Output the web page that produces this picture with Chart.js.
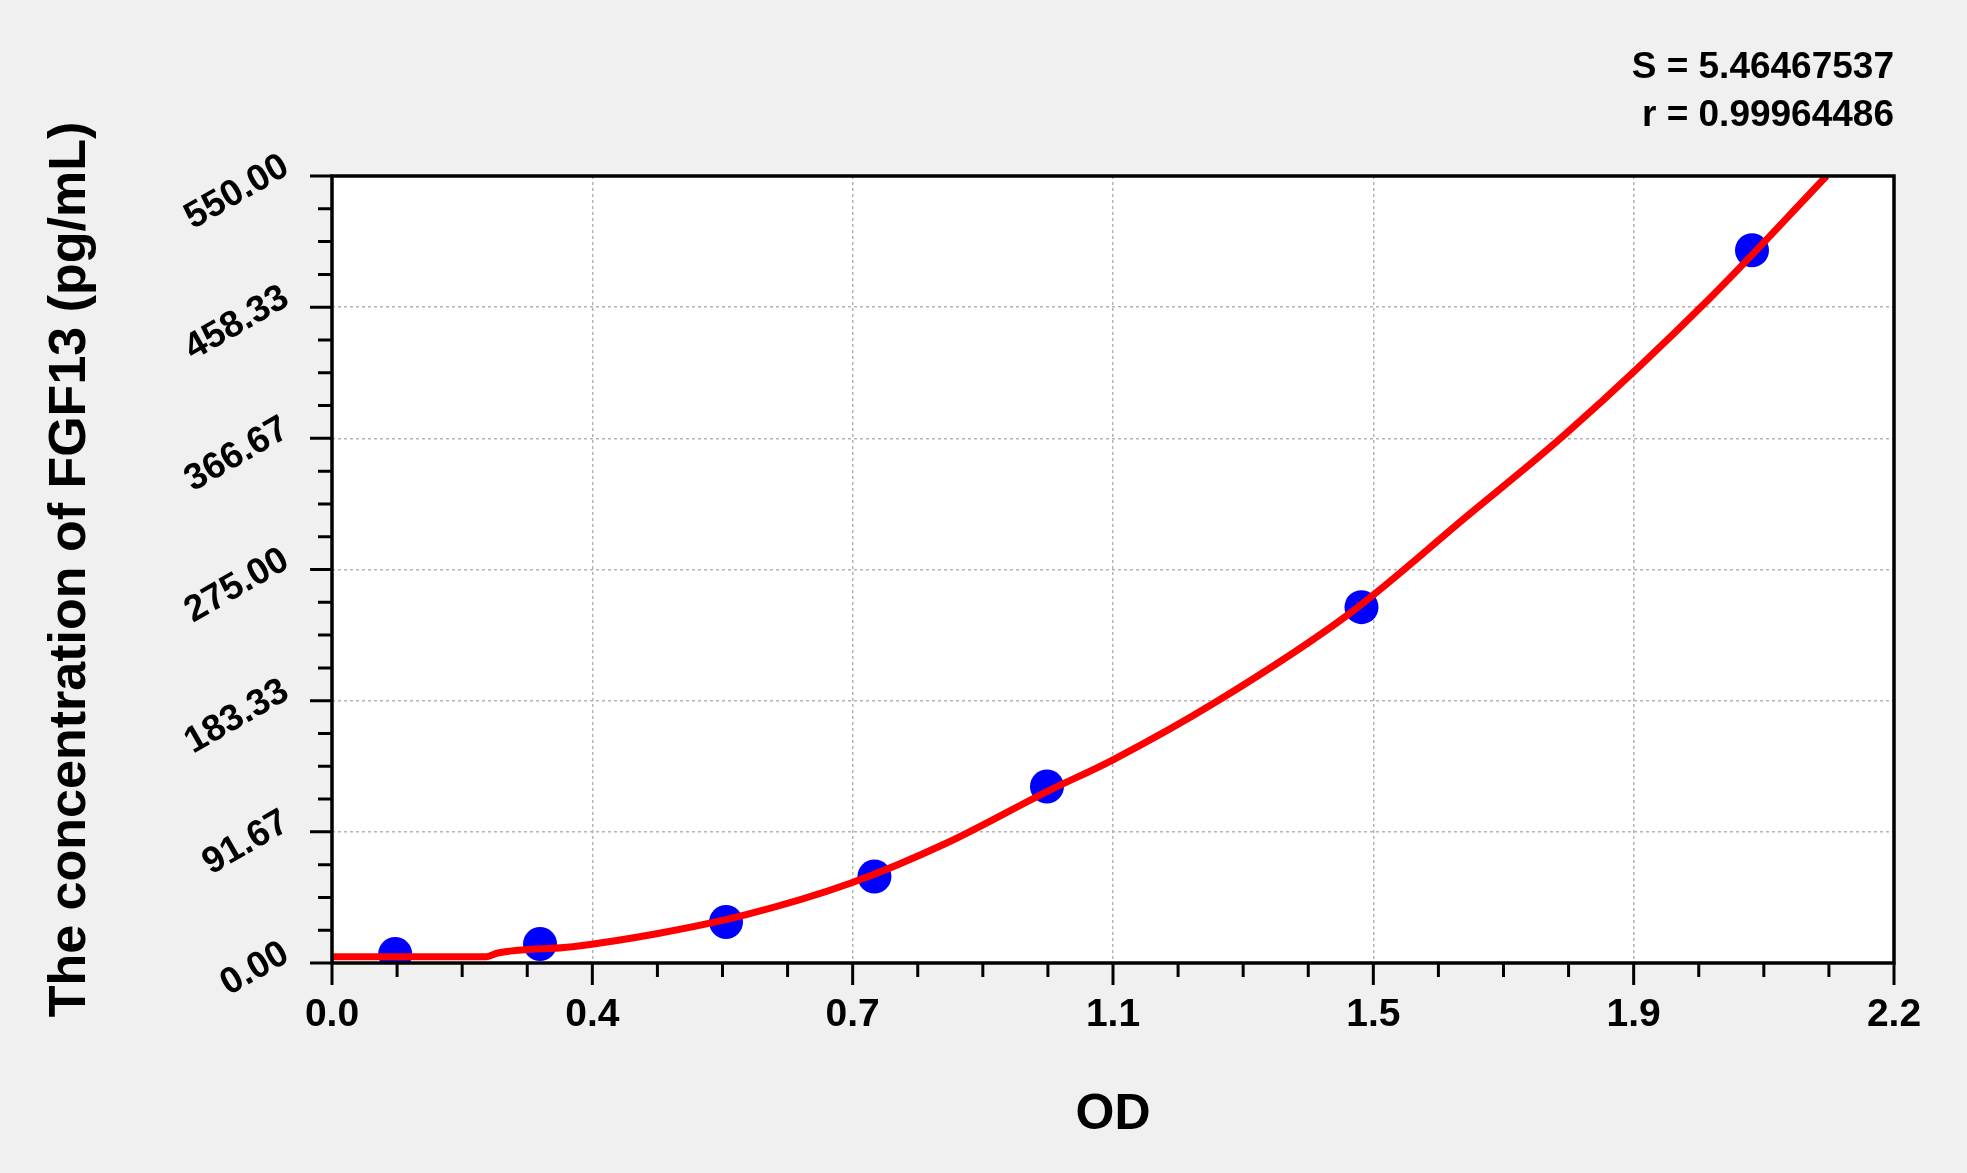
<!DOCTYPE html>
<html>
<head>
<meta charset="utf-8">
<script src="https://cdn.jsdelivr.net/npm/chart.js@4.4.1/dist/chart.umd.min.js"></script>
<style>
  html, body { margin: 0; padding: 0; background: #f0f0f0; }
  #wrap { width: 1967px; height: 1173px; }
</style>
</head>
<body>
<div id="wrap"><canvas id="myChart" width="1967" height="1173"></canvas></div>
<script>
// standard points (OD, concentration pg/mL)
let odValues = [0.089, 0.293, 0.555, 0.764, 1.007, 1.450, 2.000];
let concValues = [6.3, 13.3, 28.7, 60.4, 123.3, 248.7, 498.1];

// fitted curve
let curveOD = [0, 0.218, 0.232, 0.339, 0.461, 0.582, 0.730, 0.865, 1.007, 1.100,
  1.246, 1.434, 1.598, 1.739, 1.941, 2.105];
let curveConc = [4.4, 4.4, 6.8, 11.4, 20.8, 33.6, 55.7, 83.7, 119.8, 142,
  182.7, 244.5, 312, 370.4, 464.8, 550];

let xTickLabels = ['0.0', '0.4', '0.7', '1.1', '1.5', '1.9', '2.2'];
let yTickLabels = ['0.00', '91.67', '183.33', '275.00', '366.67', '458.33', '550.00'];
let xMax = 2.2;
let yMax = 550;
let statLines = ['S = 5.46467537', 'r = 0.99964486'];

const fam = '"Liberation Sans", Arial, sans-serif';

// white plot area, tick marks (major + minor), frame and S / r text
const frame = {
  id: 'frame',
  beforeDraw(chart) {
    const {ctx, chartArea: a} = chart;
    ctx.save();
    ctx.fillStyle = '#ffffff';
    ctx.fillRect(a.left, a.top, a.right - a.left, a.bottom - a.top);
    ctx.restore();
  },
  afterDraw(chart) {
    const {ctx, chartArea: a, scales: {x, y}} = chart;
    ctx.save();
    ctx.strokeStyle = '#000';
    ctx.lineWidth = 3;
    ctx.beginPath();
    for (let i = 0; i <= 24; i++) {
      let len = i % 4 === 0 ? 22 : 14;
      let px = x.getPixelForValue(i * xMax / 24);
      ctx.moveTo(px, a.bottom);
      ctx.lineTo(px, a.bottom + len);
      let py = y.getPixelForValue(i * yMax / 24);
      ctx.moveTo(a.left, py);
      ctx.lineTo(a.left - len, py);
    }
    ctx.stroke();
    ctx.lineWidth = 3.5;
    ctx.strokeRect(a.left, a.top, a.right - a.left, a.bottom - a.top);

    ctx.fillStyle = '#000';
    ctx.font = 'bold 37px ' + fam;
    ctx.textAlign = 'right';
    ctx.textBaseline = 'alphabetic';
    ctx.fillText(statLines[0], a.right, 78);
    ctx.fillText(statLines[1], a.right, 126);
    ctx.restore();
  }
};

let ctx = document.getElementById('myChart').getContext('2d');

let myChart = new Chart(ctx, {
  type: 'scatter',
  data: {
    datasets: [
      {
        type: 'line',
        data: curveOD.map((v, i) => ({x: v, y: curveConc[i]})),
        borderColor: '#ff0000',
        borderWidth: 7,
        pointRadius: 0,
        fill: false,
        cubicInterpolationMode: 'monotone'
      },
      {
        data: odValues.map((v, i) => ({x: v, y: concValues[i]})),
        backgroundColor: '#0000ff',
        borderWidth: 0,
        pointRadius: 17
      }
    ]
  },
  options: {
    responsive: false,
    animation: false,
    layout: { padding: { left: 0, top: 176, right: 73, bottom: 0 } },
    plugins: { legend: { display: false }, tooltip: { enabled: false } },
    scales: {
      x: {
        type: 'linear',
        min: 0,
        max: xMax,
        afterBuildTicks: (scale) => { scale.ticks = xTickLabels.map((t, i) => ({value: i * xMax / 6})); },
        afterFit: (scale) => { scale.height = 210; },
        ticks: {
          callback: (v, i) => xTickLabels[i],
          autoSkip: false,
          maxRotation: 0,
          padding: 29,
          color: '#000',
          font: { family: fam, size: 39, weight: 'bold' }
        },
        grid: { drawTicks: false, color: '#b4b4b4', lineWidth: 1.5 },
        border: { display: false, dash: [3, 3] },
        title: {
          display: true,
          text: 'OD',
          color: '#000',
          font: { family: fam, size: 50, weight: 'bold' },
          padding: { top: 0, bottom: 28 }
        }
      },
      y: {
        type: 'linear',
        min: 0,
        max: yMax,
        afterBuildTicks: (scale) => { scale.ticks = yTickLabels.map((t, i) => ({value: i * yMax / 6})); },
        afterFit: (scale) => { scale.width = 332; },
        ticks: {
          callback: (v, i) => yTickLabels[i],
          autoSkip: false,
          minRotation: 30,
          maxRotation: 30,
          padding: 46,
          labelOffset: -12,
          color: '#000',
          font: { family: fam, size: 37, weight: 'bold' }
        },
        grid: { drawTicks: false, color: '#b4b4b4', lineWidth: 1.5 },
        border: { display: false, dash: [3, 3] },
        title: {
          display: true,
          text: 'The concentration of FGF13 (pg/mL)',
          color: '#000',
          font: { family: fam, size: 52, weight: 'bold' },
          padding: { top: 39, bottom: 0 }
        }
      }
    }
  },
  plugins: [frame]
});
</script>
</body>
</html>
